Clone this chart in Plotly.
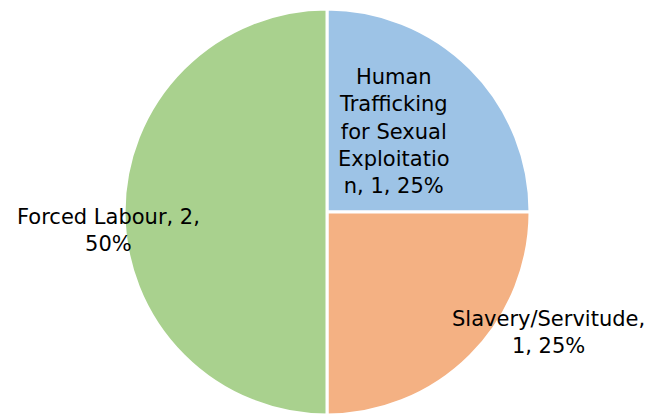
import plotly.graph_objects as go

categories = ["Human Trafficking for Sexual Exploitation", "Slavery/Servitude", "Forced Labour"]
counts = [1, 1, 2]
percents = ["25%", "25%", "50%"]
colors = ["#9DC3E6", "#F4B183", "#A9D18E"]

# wrapped label text as shown in the chart, with (x, y) centre in pixels
label_lines = [
    "Human<br>Trafficking<br>for Sexual<br>Exploitatio<br>n, {n}, {p}",
    "Slavery/Servitude,<br>{n}, {p}",
    "Forced Labour, {n},<br>{p}",
]
label_pos = [(394, 131), (548, 332), (108, 231)]

W, H = 660, 414
OFF = 8  # page body margin pushes the plot 8px right/down

fig = go.Figure(
    go.Pie(
        labels=categories,
        values=counts,
        sort=False,
        direction="clockwise",
        rotation=0,
        marker=dict(colors=colors, line=dict(color="white", width=3)),
        textinfo="none",
        hoverinfo="label+value+percent",
        domain=dict(x=[0, 0.9667], y=[0.0169, 0.9976]),
        showlegend=False,
    )
)

for tmpl, n, p, (px, py) in zip(label_lines, counts, percents, label_pos):
    fig.add_annotation(
        text=tmpl.format(n=n, p=p),
        xref="paper",
        yref="paper",
        x=(px - OFF) / W,
        y=1 - (py - OFF) / H,
        xanchor="center",
        yanchor="middle",
        showarrow=False,
        align="center",
        font=dict(family="DejaVu Sans", size=21, color="black"),
    )

fig.update_layout(
    width=W,
    height=H,
    margin=dict(t=0, b=0, l=0, r=0),
    paper_bgcolor="white",
    plot_bgcolor="white",
)

fig.write_html("out.html")
